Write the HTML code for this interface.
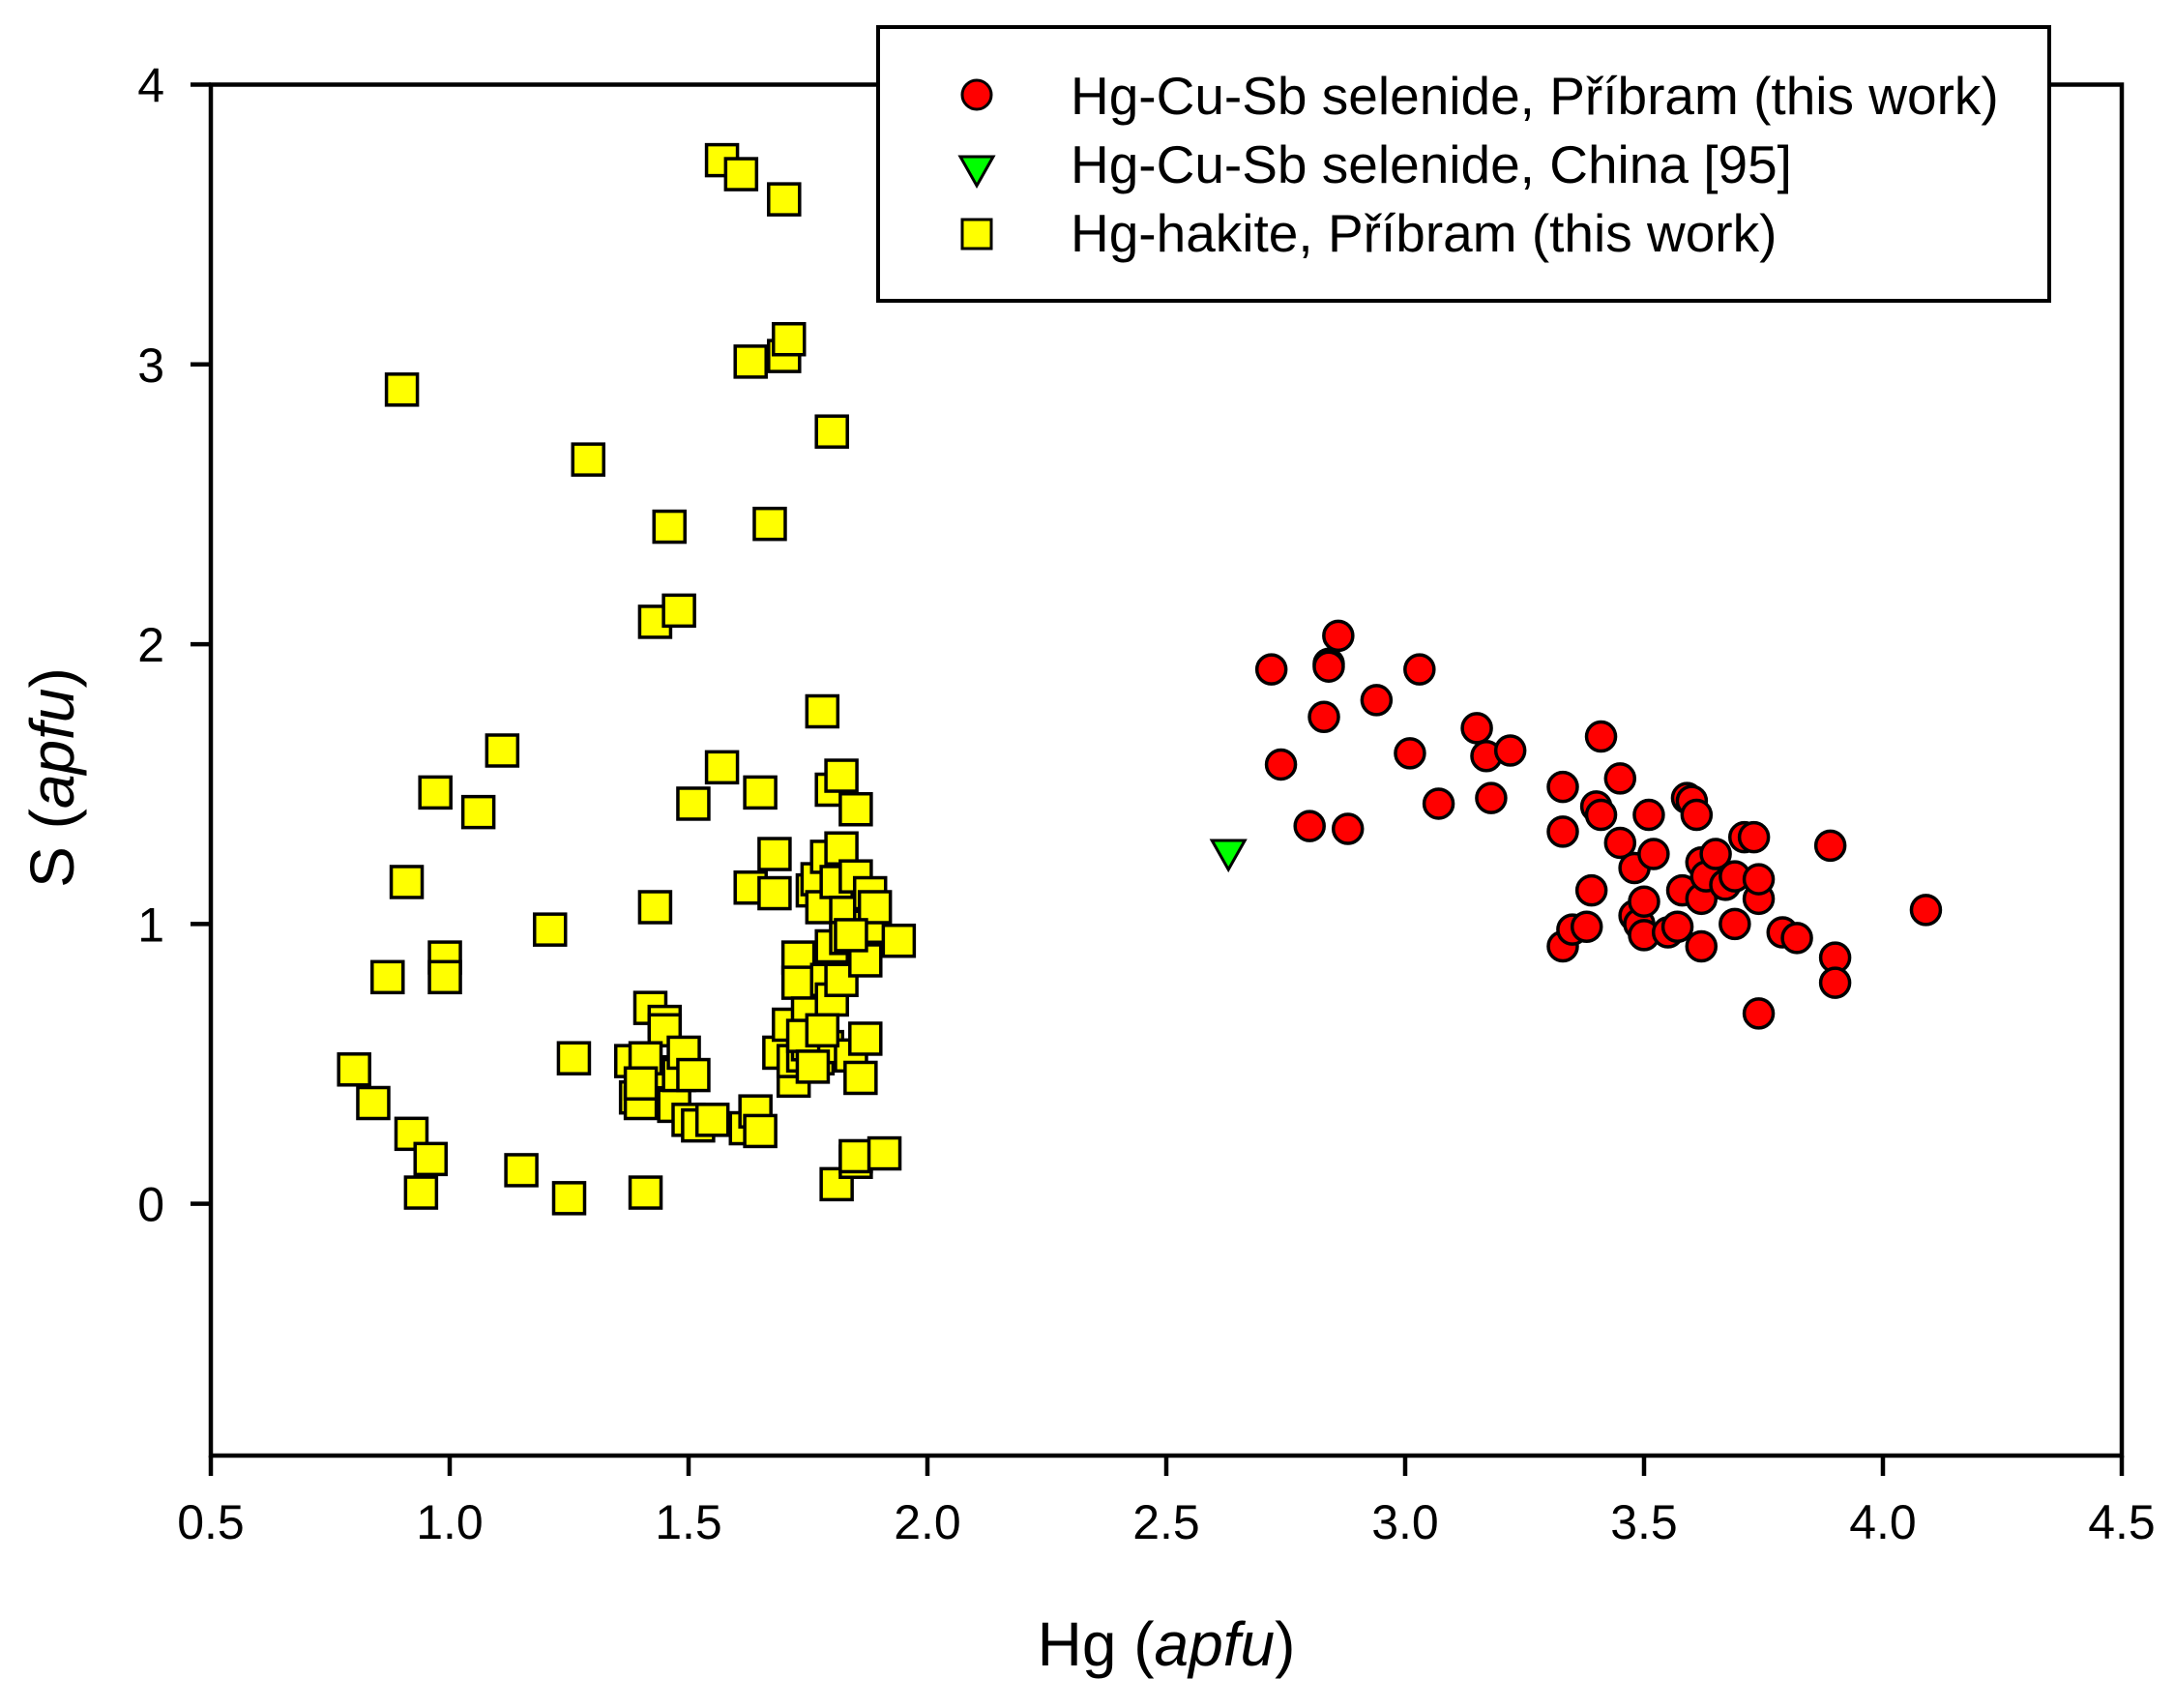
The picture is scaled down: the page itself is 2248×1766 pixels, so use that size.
<!DOCTYPE html>
<html><head><meta charset="utf-8"><style>
html,body{margin:0;padding:0;background:#fff;width:2248px;height:1766px;overflow:hidden}
svg text{font-family:"Liberation Sans",Arial,sans-serif;fill:#000}
</style></head><body>
<svg id="chart" width="2248" height="1766" viewBox="0 0 2248 1766" xmlns="http://www.w3.org/2000/svg">
<rect x="0" y="0" width="2248" height="1766" fill="#fff"/>
<g id="marks"></g>
<g id="axes"></g>
<text x="1206" y="1722" font-size="64" text-anchor="middle">Hg (<tspan font-style="italic">apfu</tspan>)</text>
<text transform="translate(76,804) rotate(-90)" font-size="64" text-anchor="middle">S (<tspan font-style="italic">apfu</tspan>)</text>
<g>
<rect x="908" y="28" width="1211" height="283" fill="#fff" stroke="#000" stroke-width="4"/>
<g>
<circle cx="1010" cy="98" r="15" fill="#ff0000" stroke="#000" stroke-width="3"/>
<text x="1107" y="118" font-size="55">Hg-Cu-Sb selenide, Příbram (this work)</text></g>
<g>
<polygon points="993,162 1027,162 1010,192" fill="#00ff00" stroke="#000" stroke-width="3"/>
<text x="1107" y="189" font-size="55">Hg-Cu-Sb selenide, China [95]</text></g>
<g>
<rect x="995" y="227" width="30" height="30" fill="#ffff00" stroke="#000" stroke-width="3"/>
<text x="1107" y="260" font-size="55">Hg-hakite, Příbram (this work)</text></g>
</g>
</svg>
<script>
const xTicks=[0.5,1.0,1.5,2.0,2.5,3.0,3.5,4.0,4.5];
const xTickLabels=["0.5","1.0","1.5","2.0","2.5","3.0","3.5","4.0","4.5"];
const yTicks=[0,1,2,3,4];
const yTickLabels=["0","1","2","3","4"];
const redX=[2.72,2.74,2.80,2.83,2.84,2.84,2.86,2.88,2.94,3.01,3.03,3.07,3.15,3.17,3.18,3.22,3.33,3.33,3.33,3.35,3.38,3.39,3.40,3.41,3.41,3.45,3.45,3.48,3.48,3.49,3.50,3.50,3.51,3.52,3.55,3.57,3.58,3.59,3.60,3.61,3.62,3.62,3.62,3.63,3.65,3.67,3.69,3.69,3.71,3.73,3.74,3.74,3.74,3.79,3.82,3.89,3.90,3.90,4.09];
const redY=[1.91,1.57,1.35,1.74,1.93,1.92,2.03,1.34,1.80,1.61,1.91,1.43,1.70,1.60,1.45,1.62,1.49,1.33,0.92,0.98,0.99,1.12,1.42,1.39,1.67,1.29,1.52,1.20,1.03,1.00,1.08,0.96,1.39,1.25,0.97,0.99,1.12,1.45,1.44,1.39,1.22,1.09,0.92,1.17,1.25,1.14,1.00,1.17,1.31,1.31,1.09,1.16,0.68,0.97,0.95,1.28,0.88,0.79,1.05];
const greenX=[2.63];
const greenY=[1.25];
const yelX=[0.80,0.84,0.87,0.90,0.91,0.92,0.94,0.96,0.97,0.99,0.99,1.06,1.11,1.15,1.21,1.25,1.26,1.29,1.38,1.39,1.40,1.41,1.42,1.43,1.43,1.44,1.45,1.45,1.46,1.47,1.48,1.48,1.49,1.50,1.51,1.51,1.52,1.55,1.57,1.57,1.61,1.62,1.63,1.63,1.64,1.65,1.65,1.67,1.68,1.68,1.69,1.70,1.70,1.71,1.71,1.72,1.72,1.73,1.73,1.74,1.75,1.75,1.76,1.77,1.77,1.78,1.78,1.79,1.79,1.79,1.80,1.80,1.80,1.80,1.81,1.81,1.82,1.82,1.82,1.83,1.83,1.84,1.85,1.85,1.85,1.85,1.86,1.87,1.87,1.88,1.88,1.89,1.91,1.94,1.41,1.40,1.74,1.76,1.78,1.84];
const yelY=[0.48,0.36,0.81,2.91,1.15,0.25,0.04,0.16,1.47,0.88,0.81,1.40,1.62,0.12,0.98,0.02,0.52,2.66,0.51,0.38,0.36,0.04,0.70,1.06,2.08,0.47,0.65,0.62,2.42,0.35,2.12,0.46,0.54,0.30,0.46,1.43,0.28,0.30,1.56,3.73,3.68,0.27,1.13,3.01,0.33,0.26,1.47,2.43,1.11,1.25,0.54,3.59,3.03,3.09,0.64,0.44,0.51,0.88,0.79,0.53,0.68,0.57,1.12,0.52,1.16,1.76,1.06,0.80,0.56,1.24,0.92,0.73,2.76,1.48,0.07,1.15,1.27,0.80,1.53,1.04,0.95,0.53,0.15,0.17,1.41,1.17,0.45,0.59,0.87,1.11,0.99,1.06,0.18,0.94,0.52,0.43,0.60,0.49,0.62,0.96];

const L=218,R=2194,T=87.5,B=1505;
const X0=0.5,X1=4.5,Y0=-0.9,Y1=4;
function sx(v){return L+(v-X0)/(X1-X0)*(R-L);}
function sy(v){return B-(v-Y0)/(Y1-Y0)*(B-T);}
const NS="http://www.w3.org/2000/svg";
function mk(tag,attrs,parent){const e=document.createElementNS(NS,tag);for(const k in attrs)e.setAttribute(k,attrs[k]);parent.appendChild(e);return e;}
const axes=document.getElementById('axes'),marks=document.getElementById('marks');
let e=mk('rect',{x:L,y:T,width:R-L,height:B-T,fill:'none',stroke:'#000','stroke-width':4.5},axes);


xTicks.forEach((v,i)=>{
  const t=mk('line',{x1:sx(v),x2:sx(v),y1:B,y2:B+21,stroke:'#000','stroke-width':4.5},axes);
  
  
  const tx=mk('text',{x:sx(v),y:B+86,'font-size':50,'text-anchor':'middle'},axes);
  tx.textContent=xTickLabels[i];
  
  
});
yTicks.forEach((v,i)=>{
  const t=mk('line',{x1:L-21,x2:L,y1:sy(v),y2:sy(v),stroke:'#000','stroke-width':4.5},axes);
  
  
  const tx=mk('text',{x:L-48,y:sy(v)+18,'font-size':50,'text-anchor':'end'},axes);
  tx.textContent=yTickLabels[i];
  
  
});
yelX.forEach((x,i)=>{
  const s=mk('rect',{x:sx(x)-16,y:sy(yelY[i])-16,width:32,height:32,fill:'#ffff00',stroke:'#000','stroke-width':3.5},marks);
  
  
});
greenX.forEach((x,i)=>{
  const cx=sx(x),cy=sy(greenY[i]);
  const p=mk('polygon',{points:`${cx-17},${cy-14} ${cx+17},${cy-14} ${cx},${cy+16}`,fill:'#00ff00',stroke:'#000','stroke-width':3},marks);
  
  
});
redX.forEach((x,i)=>{
  const c=mk('circle',{cx:sx(x),cy:sy(redY[i]),r:15,fill:'#ff0000',stroke:'#000','stroke-width':3.5},marks);
  
  
});
</script>
</body></html>
